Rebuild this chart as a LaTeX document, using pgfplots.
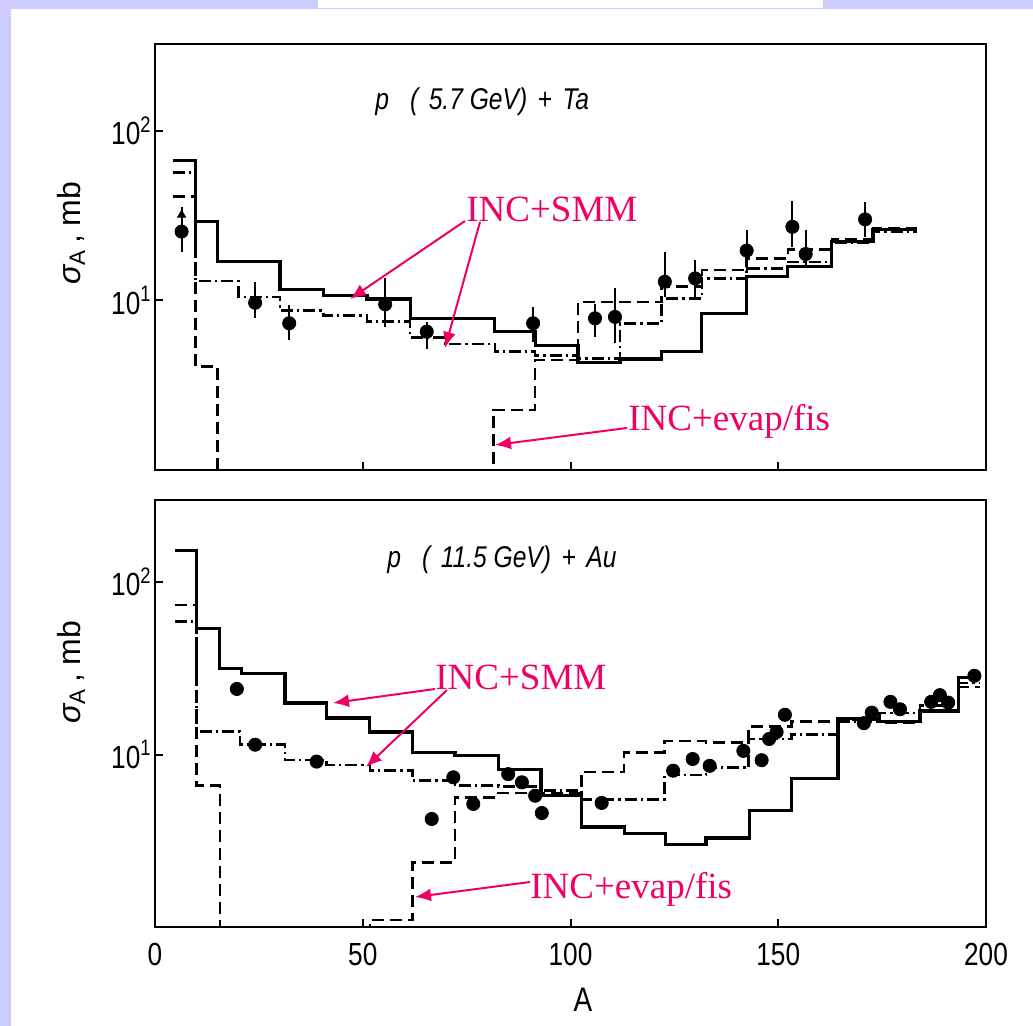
\documentclass[border=0pt]{standalone}
\usepackage{fontspec}
\setmainfont{Liberation Serif}
\newfontfamily\ls{Liberation Sans}
\newfontfamily\cs[FakeStretch=0.82]{Liberation Sans}
\usepackage{pgfplots}
\pgfplotsset{compat=1.18}
\usetikzlibrary{arrows.meta}
\definecolor{lav}{RGB}{204,204,255}
\definecolor{pk}{RGB}{240,0,100}
\begin{document}
\begin{tikzpicture}[x=0.5pt,y=-0.5pt]
\useasboundingbox (0,0) rectangle (1033,1026);
\fill[lav] (0,0) rectangle (1033,1026);
\fill[white] (11,9) rectangle (1033,1026);
\fill[white] (318,0) rectangle (823,8);
\coordinate (A1) at (155,470);
\coordinate (A2) at (155,927);

% ---------------- top panel ----------------
\begin{axis}[anchor=south west, at={(A1)}, scale only axis, width=415.5pt, height=213pt,
    xmin=0, xmax=200, ymode=log, ymin=1, ymax=326,
    axis line style={line width=1.1pt},
    xtick={0,50,100,150,200}, ytick={10,100},
    xticklabels={},
    yticklabels={{10\textsuperscript{1}},{10\textsuperscript{2}}},
    tick align=inside, tick pos=left, major tick length=4pt,
    major tick style={line width=1pt, black},
    yminorticks=false, xminorticks=false,
    tick label style={font=\cs\fontsize{16}{18}\selectfont},
    yticklabel style={inner sep=1.5pt}]
\addplot[black, line width=1.6pt, const plot, mark=none] coordinates {(4.3,66.8) (9.8,29.2) (15.1,16.9) (30.1,11.6) (40.5,10.7) (51,10.2) (61.4,7.85) (81.8,6.55) (91.5,5.41) (101.8,4.30) (111.9,4.52) (121.9,4.99) (131.6,8.4) (142.4,13.8) (152.3,15.8) (162.9,22.2) (172.8,26.1) (183.3,26.1)};
\addplot[black, line width=1.3pt, const plot, mark=none, dash pattern=on 6pt off 2pt on 1.2pt off 2pt] coordinates {(4.3,56.9) (9.8,13.0) (20.1,10.5) (30.1,8.7) (40.5,8.13) (51,7.5) (61.4,6.03) (69.8,5.54) (81.8,5.0) (91.5,4.72) (101.8,4.56) (111.9,7.3) (121.9,10.3) (131.6,13.5) (142.4,15.5) (152.3,16.9) (162.9,21.9) (172.8,25.5) (183.3,25.5)};
\addplot[black, line width=1.3pt, const plot, mark=none, dash pattern=on 6pt off 3pt] coordinates {(4.3,41) (9.8,4.07) (15.1,0.5) (81.5,2.26) (91.5,4.46) (101.8,9.8) (121.9,12.1) (131.6,15.1) (142.4,17.7) (152.3,20.0) (162.9,23.0) (172.8,26.5) (183.3,26.5)};
\addplot[black, line width=1pt, mark=none, unbounded coords=jump] table {
x y
6.4 19.4
6.4 35.7
6.4 nan
24.1 7.85
24.1 12.9
24.1 nan
32.3 5.85
32.3 9.4
32.3 nan
55.4 7.0
55.4 13.6
55.4 nan
65.4 5.2
65.4 7.5
65.4 nan
91.0 5.7
91.0 9.2
91.0 nan
105.9 6.1
105.9 9.6
105.9 nan
110.7 5.6
110.7 11.8
110.7 nan
122.7 10.5
122.7 19.4
122.7 nan
130.0 10.1
130.0 17.3
130.0 nan
142.4 14.5
142.4 26
142.4 nan
153.4 20.7
153.4 38.4
153.4 nan
156.6 15.5
156.6 26
156.6 nan
170.9 23.7
170.9 38.3
};
\addplot[only marks, mark=*, mark size=3.3pt, black] coordinates {(6.4,25.5) (24.1,9.7) (32.3,7.34) (55.4,9.5) (65.4,6.55) (91.0,7.34) (105.9,7.85) (110.7,8.0) (122.7,12.9) (130.0,13.5) (142.4,19.7) (153.4,27.2) (156.6,18.8) (170.9,30.1)};
\addplot[only marks, mark=triangle*, mark size=2.3pt, black] coordinates {(6.4,32)};
\end{axis}

% ---------------- bottom panel ----------------
\begin{axis}[anchor=south west, at={(A2)}, scale only axis, width=415.5pt, height=213.5pt,
    xmin=0, xmax=200, ymode=log, ymin=1, ymax=299,
    axis line style={line width=1.1pt},
    xtick={0,50,100,150,200}, ytick={10,100},
    xticklabels={0,50,100,150,200},
    yticklabels={{10\textsuperscript{1}},{10\textsuperscript{2}}},
    tick align=inside, tick pos=left, major tick length=4pt,
    major tick style={line width=1pt, black},
    yminorticks=false, xminorticks=false,
    tick label style={font=\cs\fontsize{16}{18}\selectfont},
    yticklabel style={inner sep=1.5pt},
    xticklabel style={yshift=-4.5pt}]
\addplot[black, line width=1.6pt, const plot, mark=none] coordinates {(4.8,152) (10,54) (15.6,31.6) (20.9,29.6) (31.3,19.9) (41.3,16.3) (51.7,13.5) (62,10.3) (72.2,9.84) (82.6,8.2) (92.9,5.8) (102.6,3.8) (112.9,3.5) (122.9,3.0) (132.6,3.28) (143.1,4.73) (153.2,7.26) (164.4,16.1) (174.4,15.5) (184.1,17.9) (193.3,28) (198.6,28)};
\addplot[black, line width=1.3pt, const plot, mark=none, dash pattern=on 6pt off 2pt on 1.2pt off 2pt] coordinates {(4.8,58.9) (10,13.6) (20.5,11.4) (31.3,9.3) (41.3,8.7) (51.7,8.06) (62,7.05) (72.2,6.59) (82.6,6.5) (92.8,6.2) (102.6,5.5) (122.6,7.6) (132.6,8.4) (142.9,12.3) (153.2,13.1) (164.4,15.6) (174.4,17.4) (184.1,19.2) (193.3,26) (198.6,26)};
\addplot[black, line width=1.3pt, const plot, mark=none, dash pattern=on 6pt off 3pt] coordinates {(4.8,73.6) (10,6.6) (15.6,0.5) (51.7,1.1) (62,2.37) (72.2,5.65) (82.6,5.98) (102.6,7.9) (112.9,10.3) (122.6,12.0) (132.6,11.7) (142.9,14.5) (153.2,15.5) (164.4,15.9) (174.4,15.2) (184.1,17.9) (193.3,24.6) (198.6,24.6)};
\addplot[only marks, mark=*, mark size=3.3pt, black] coordinates {(19.7,24.0) (24.1,11.4) (38.9,9.1) (66.6,4.23) (71.8,7.38) (76.6,5.17) (85.0,7.7) (88.3,6.9) (91.5,5.77) (93.1,4.58) (107.5,5.24) (124.7,8.06) (129.4,9.42) (133.5,8.6) (141.6,10.5) (146.0,9.27) (147.8,12.3) (149.6,13.5) (151.6,17.0) (170.6,15.2) (172.5,17.5) (177.0,20.2) (179.3,18.3) (186.8,20.2) (188.9,22.1) (190.9,20.0) (197.2,28.6)};
\end{axis}

% ---------------- labels ----------------
\node[anchor=base west, inner sep=0, font=\cs\itshape\fontsize{15}{17}\selectfont] at (375,110) {p\hspace{0.7em}(\hspace{0.35em}5.7 GeV)\hspace{0.35em}+\hspace{0.35em}Ta};
\node[anchor=base west, inner sep=0, font=\cs\itshape\fontsize{15}{17}\selectfont] at (387,567) {p\hspace{0.7em}(\hspace{0.35em}11.5 GeV)\hspace{0.35em}+\hspace{0.35em}Au};
\node[rotate=90, font=\ls\fontsize{16}{18}\selectfont] at (71,233) {{\itshape σ}\textsubscript{A}\,, mb};
\node[rotate=90, font=\ls\fontsize{16}{18}\selectfont] at (71,672) {{\itshape σ}\textsubscript{A}\,, mb};
\node[font=\cs\fontsize{17}{19}\selectfont] at (583,1000) {A};

% ---------------- annotations ----------------
\begin{scope}[pk, line width=1pt, -{Latex[length=8pt,width=6.5pt]}]
\draw (465,221) -- (350,299);
\draw (480,222) -- (445,348);
\draw (627,428) -- (495,445);
\draw (435,689) -- (333,703);
\draw (447,690) -- (366,767);
\draw (530,882) -- (415,897);
\end{scope}
\node[pk, anchor=base west, inner sep=0, font=\fontsize{18.5}{20}\selectfont] at (466,222) {INC+SMM};
\node[pk, anchor=base west, inner sep=0, font=\fontsize{18.5}{20}\selectfont] at (628,430) {INC+evap/fis};
\node[pk, anchor=base west, inner sep=0, font=\fontsize{18.5}{20}\selectfont] at (435,689) {INC+SMM};
\node[pk, anchor=base west, inner sep=0, font=\fontsize{18.5}{20}\selectfont] at (530,898) {INC+evap/fis};
\end{tikzpicture}
\end{document}
